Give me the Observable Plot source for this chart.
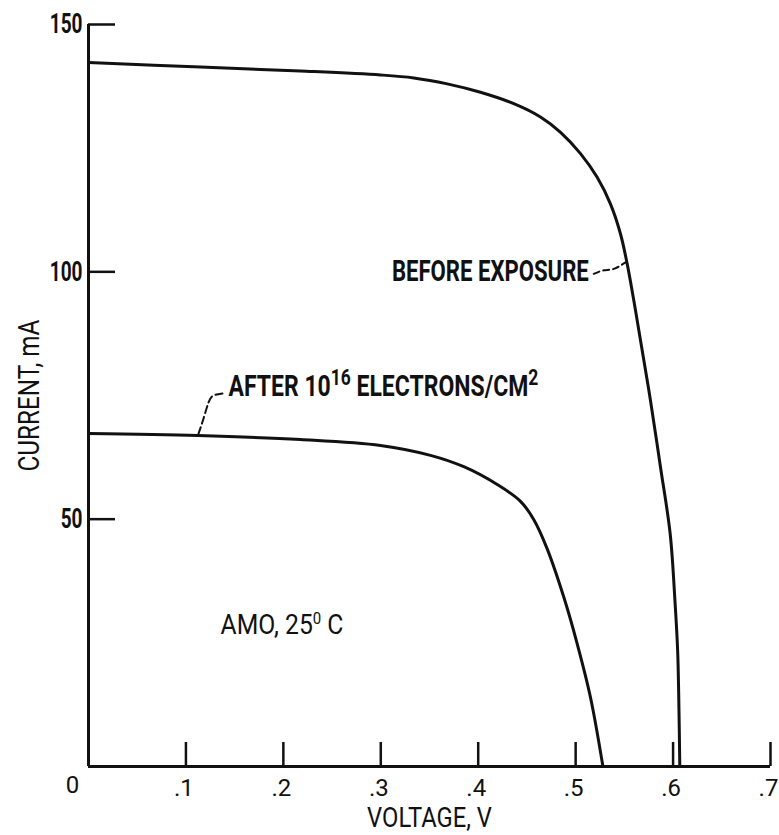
<!DOCTYPE html>
<html><head><meta charset="utf-8">
<script src="https://cdn.jsdelivr.net/npm/d3@7"></script>
<script src="https://cdn.jsdelivr.net/npm/@observablehq/plot@0.6"></script>
<style>body{margin:0;background:#fff} svg{display:block}</style>
</head><body><div id="chart"></div>
<script>
// Before exposure I-V curve (V, mA)
const beforeV = [0, 0.115, 0.2176, 0.2997, 0.3339, 0.3682, 0.4023, 0.4365, 0.4639, 0.4845, 0.5050, 0.5221, 0.5358, 0.5460, 0.5529, 0.5597, 0.5666, 0.5768, 0.5871, 0.5970, 0.6019, 0.6047, 0.6059, 0.6069];
const beforeI = [142.3, 141.4, 140.6, 139.8, 139.2, 138.0, 136.3, 134.0, 131.3, 128.2, 123.9, 119.1, 113.7, 107.7, 101.6, 94.2, 86.1, 74.0, 60.5, 47.1, 33.6, 23.4, 13.3, 0];
// After 10^16 electrons/cm^2
const afterV = [0, 0.112, 0.2176, 0.2997, 0.3510, 0.3852, 0.4195, 0.4434, 0.4571, 0.4708, 0.4879, 0.5016, 0.5152, 0.528];
const afterI = [67.3, 66.9, 66.1, 64.9, 62.9, 60.6, 57.0, 53.6, 49.9, 44.0, 34.2, 24.8, 14.0, 0];

const xTicks = [0.1, 0.2, 0.3, 0.4, 0.5, 0.6, 0.7];
const xTickLabels = [".1", ".2", ".3", ".4", ".5", ".6", ".7"];
const yTicks = [50, 100, 150];
const yTickLabels = ["50", "100", "150"];
const originLabel = ["0"];
const xLabel = ["VOLTAGE, V"];
const yLabel = ["CURRENT, mA"];

const annoText = ["BEFORE EXPOSURE", "AFTER 10^16 ELECTRONS/CM^2", "AMO, 25^0 C"];
const annoV = [0.5135, 0.1437, 0.1355];
const annoI = [100.1, 76.8, 28.5];
const annoAnchor = ["end", "start", "start"];

const leaderBeforeV = [0.5186, 0.5289, 0.5392, 0.5512];
const leaderBeforeI = [99.6, 100.3, 100.6, 101.9];
const leaderAfterV = [0.1375, 0.1283, 0.1232, 0.1180, 0.1129];
const leaderAfterI = [75.4, 75.0, 73.6, 70.3, 67.3];

const before = beforeV.map((v, i) => ({v, i: beforeI[i]}));
const after = afterV.map((v, i) => ({v, i: afterI[i]}));
const lb = leaderBeforeV.map((v, i) => ({v, i: leaderBeforeI[i]}));
const la = leaderAfterV.map((v, i) => ({v, i: leaderAfterI[i]}));
const annos = annoText.map((t, k) => ({t, v: annoV[k], i: annoI[k], a: annoAnchor[k]}));

// ---- styling ----
const W = 779, H = 835, mL = 88, mR = 9, mT = 24, mB = 69;
const fw = W - mL - mR, fh = H - mT - mB;
const ink = "#111";
const font = "Roboto, 'Liberation Sans', sans-serif";
const fitWidth = new Map([["BEFORE EXPOSURE", 197], ["AFTER 1016 ELECTRONS/CM2", 310], ["AMO, 250 C", 123], ["VOLTAGE, V", 125], ["CURRENT, mA", 152]]);
const supStyle = {AFTER: {size: 22, rise: 11}, AMO: {size: 17, rise: 10}};
const yTickCondense = 0.68;

const plot = Plot.plot({
  width: W, height: H,
  marginLeft: mL, marginRight: mR, marginTop: mT, marginBottom: mB,
  style: {fontFamily: font, fontSize: "24px", color: ink, background: "#fff"},
  x: {domain: [0, 0.7], axis: null},
  y: {domain: [0, 150], axis: null},
  marks: [
    Plot.ruleX([0], {stroke: ink, strokeWidth: 3}),
    Plot.ruleY([0], {stroke: ink, strokeWidth: 3}),
    Plot.ruleY(yTicks, {y: d => d, stroke: ink, strokeWidth: 2.5, insetRight: fw - 27}),
    Plot.ruleX(xTicks, {x: d => d, stroke: ink, strokeWidth: 2.5, insetTop: fh - 24}),
    Plot.axisY(yTicks, {tickSize: 0, tickPadding: 6, fontSize: 28, fontWeight: "bold", label: null,
      tickFormat: d => yTickLabels[yTicks.indexOf(d)]}),
    Plot.axisX(xTicks, {tickSize: 0, tickPadding: 12, fontSize: 24, dx: -2, label: null,
      tickFormat: d => xTickLabels[xTicks.indexOf(d)]}),
    Plot.text(originLabel, {x: 0, y: 0, dx: -16, dy: 19, fontSize: 24}),
    Plot.text(xLabel, {frameAnchor: "bottom", textAnchor: "middle", lineAnchor: "middle", dy: 52, fontSize: 28}),
    Plot.text(yLabel, {frameAnchor: "left", textAnchor: "middle", lineAnchor: "middle", rotate: -90, dx: -59, fontSize: 29}),
    Plot.line(before, {x: "v", y: "i", stroke: ink, strokeWidth: 3, curve: "catmull-rom"}),
    Plot.line(after, {x: "v", y: "i", stroke: ink, strokeWidth: 3, curve: "catmull-rom"}),
    Plot.line(lb, {x: "v", y: "i", stroke: ink, strokeWidth: 2, strokeDasharray: "6,4", curve: "natural"}),
    Plot.line(la, {x: "v", y: "i", stroke: ink, strokeWidth: 2, strokeDasharray: "7,4", curve: "natural"}),
    Plot.text(annos.filter(d => d.a === "end"), {x: "v", y: "i", text: "t", textAnchor: "end", fontSize: 29, fontWeight: "bold"}),
    Plot.text(annos.filter(d => d.a === "start" && d.t.startsWith("AFTER")), {x: "v", y: "i", text: "t", textAnchor: "start", fontSize: 29, fontWeight: "bold"}),
    Plot.text(annos.filter(d => d.a === "start" && !d.t.startsWith("AFTER")), {x: "v", y: "i", text: "t", textAnchor: "start", fontSize: 28})
  ]
});

document.getElementById("chart").appendChild(plot);

// superscripts as tspans
plot.querySelectorAll("text").forEach(t => {
  const s = t.textContent;
  if (!s.includes("^")) return;
  const st = supStyle[s.split(" ")[0].replace(",", "")] || {size: 18, rise: 10};
  const parts = s.split(/\^(\w+)/);
  t.textContent = "";
  parts.forEach((p, k) => {
    if (!p) return;
    const ts = document.createElementNS("http://www.w3.org/2000/svg", "tspan");
    ts.textContent = p;
    if (k % 2) { ts.setAttribute("font-size", st.size); ts.setAttribute("dy", -st.rise); }
    else if (k > 0) ts.setAttribute("dy", st.rise);
    t.appendChild(ts);
  });
});

// condense glyphs horizontally (reference uses a condensed typeface)
function condense(el, sx) {
  const tr = el.getAttribute("transform") || "";
  const x = +el.getAttribute("x") || 0;
  el.setAttribute("transform", `${tr} translate(${x},0) scale(${sx},1) translate(${-x},0)`);
}
plot.querySelectorAll("text").forEach(t => {
  const key = t.textContent;
  if (fitWidth.has(key)) condense(t, fitWidth.get(key) / t.getBBox().width);
  else if (yTickLabels.includes(key)) condense(t, yTickCondense);
});
</script></body></html>
